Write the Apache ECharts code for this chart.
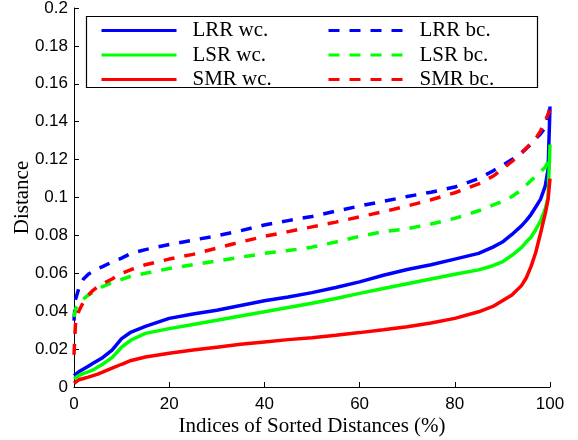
<!DOCTYPE html>
<html>
<head>
<meta charset="utf-8">
<style>
  html, body { margin: 0; padding: 0; background: #fff; }
  #chart { width: 578px; height: 440px; }
</style>
<script src="https://cdn.jsdelivr.net/npm/echarts@6/dist/echarts.min.js"></script>
</head>
<body>
<div id="chart"></div>
<script>
// x positions (% of sorted distances) shared by all curves
const xs = [0, 0.3, 1, 2, 3, 4, 5, 6, 8, 10, 12, 15, 20, 25, 30, 35, 40, 45, 50, 55,
  60, 65, 70, 75, 80, 85, 88, 90, 92, 94, 95, 96, 97, 98, 99, 99.6, 100];

const lrrWc = [0.006, 0.007, 0.008, 0.0095, 0.011, 0.0125, 0.014, 0.0155, 0.0195, 0.0255, 0.029, 0.032,
  0.0362, 0.0385, 0.0405, 0.043, 0.0455, 0.0475, 0.0498, 0.0525, 0.0555, 0.059, 0.062, 0.0645, 0.0675,
  0.0705, 0.0738, 0.0765, 0.0805, 0.085, 0.0878, 0.091, 0.095, 0.099, 0.106, 0.115, 0.148];
const lsrWc = [0.0045, 0.005, 0.006, 0.0072, 0.008, 0.009, 0.0105, 0.012, 0.0155, 0.021, 0.0248, 0.0283,
  0.0308, 0.033, 0.0352, 0.0375, 0.0397, 0.042, 0.0442, 0.0467, 0.0494, 0.052, 0.0545, 0.057, 0.0595,
  0.0618, 0.064, 0.066, 0.0695, 0.0735, 0.0765, 0.079, 0.083, 0.0875, 0.094, 0.1, 0.128];
const smrWc = [0.002, 0.003, 0.0038, 0.0045, 0.0052, 0.006, 0.0068, 0.0078, 0.0099, 0.012, 0.014, 0.0158,
  0.0178, 0.0195, 0.021, 0.0225, 0.0238, 0.025, 0.026, 0.0273, 0.0287, 0.0302, 0.0318, 0.0338, 0.0362,
  0.0397, 0.0425, 0.0455, 0.0485, 0.0535, 0.0575, 0.0635, 0.071, 0.081, 0.0915, 0.099, 0.11];
const lrrBc = [0.035, 0.046, 0.052, 0.057, 0.0595, 0.061, 0.0625, 0.0635, 0.066, 0.068, 0.0705, 0.0725,
  0.0752, 0.0775, 0.0798, 0.0825, 0.0855, 0.0878, 0.09, 0.0928, 0.0955, 0.098, 0.1005, 0.1028, 0.1055,
  0.11, 0.114, 0.117, 0.12, 0.1235, 0.1258, 0.1282, 0.131, 0.1335, 0.137, 0.143, 0.148];
const lsrBc = [0.037, 0.041, 0.0445, 0.0465, 0.0485, 0.05, 0.0515, 0.053, 0.055, 0.0568, 0.0585, 0.06,
  0.0625, 0.0645, 0.0665, 0.0685, 0.0705, 0.072, 0.0738, 0.0765, 0.0795, 0.082, 0.0835, 0.086, 0.089,
  0.093, 0.096, 0.098, 0.1005, 0.104, 0.1065, 0.109, 0.111, 0.1135, 0.116, 0.119, 0.121];
const smrBc = [0.017, 0.033, 0.04, 0.045, 0.0485, 0.051, 0.053, 0.0545, 0.057, 0.06, 0.062, 0.0645,
  0.0675, 0.07, 0.0733, 0.0765, 0.0795, 0.082, 0.0845, 0.087, 0.0898, 0.0925, 0.0955, 0.0988, 0.1025,
  0.1072, 0.1112, 0.115, 0.119, 0.1235, 0.126, 0.1285, 0.131, 0.135, 0.1405, 0.144, 0.146];

const xTicks = [0, 20, 40, 60, 80, 100];

const BLUE = '#0000ff', GREEN = '#00ff00', RED = '#ff0000';
const DASH = [11, 10];
const LW = 3.5;
const serif = '"Liberation Serif", "Times New Roman", serif';
const sans = '"Liberation Sans", Arial, sans-serif';

function mkSeries(name, ys, color, dashed) {
  return {
    name,
    type: 'line',
    data: xs.map((x, i) => [x, ys[i]]),
    symbol: 'none',
    showSymbol: false,
    z: 3,
    lineStyle: { color, width: LW, type: dashed ? DASH : 'solid' },
    itemStyle: { color },
    emphasis: { disabled: true },
  };
}

const legendText = {
  fontFamily: serif,
  fontSize: 21,
  color: '#000',
  lineHeight: 21,
  padding: [0, 0, 0, 11],
};

function mkLegend(names, left) {
  return {
    data: names,
    orient: 'vertical', left, top: 20, padding: 0,
    itemWidth: 75, itemHeight: 14, itemGap: 3.5,
    itemStyle: { opacity: 0 },
    lineStyle: { width: 3 },
    textStyle: legendText, selectedMode: false, z: 4,
  };
}

const chart = echarts.init(document.getElementById('chart'), null, { renderer: 'canvas' });
chart.setOption({
  animation: false,
  backgroundColor: '#fff',
  grid: { left: 74, right: 28, top: 8, bottom: 53, containLabel: false, outerBoundsMode: 'none' },
  graphic: [{
    type: 'rect',
    z: 1,
    shape: { x: 86.5, y: 16.5, width: 451, height: 71 },
    style: { fill: '#fff', stroke: '#000', lineWidth: 1.2 },
  }],
  legend: [
    mkLegend(['LRR wc.', 'LSR wc.', 'SMR wc.'], 100),
    mkLegend(['LRR bc.', 'LSR bc.', 'SMR bc.'], 327),
  ],
  xAxis: {
    type: 'value',
    min: 0, max: 100, interval: 20,
    name: 'Indices of Sorted Distances (%)',
    nameLocation: 'middle',
    nameGap: 29,
    nameMoveOverlap: false,
    nameTextStyle: { fontFamily: serif, fontSize: 21, color: '#000' },
    axisLine: { lineStyle: { color: '#000', width: 1 } },
    axisTick: { inside: true, length: 5, lineStyle: { color: '#000' } },
    axisLabel: {
      fontFamily: sans, fontSize: 17, color: '#000', margin: 9,
      formatter: v => (xTicks.includes(v) ? String(v) : ''),
    },
    splitLine: { show: false },
  },
  yAxis: {
    type: 'value',
    min: 0, max: 0.2, interval: 0.02,
    name: 'Distance',
    nameLocation: 'middle',
    nameGap: 41,
    nameMoveOverlap: false,
    nameTextStyle: { fontFamily: serif, fontSize: 21, color: '#000' },
    axisLine: { show: true, lineStyle: { color: '#000', width: 1 } },
    axisTick: { show: true, inside: true, length: 5, lineStyle: { color: '#000' } },
    axisLabel: {
      fontFamily: sans, fontSize: 17, color: '#000', margin: 6,
      formatter: v => String(parseFloat(v.toFixed(2))),
    },
    splitLine: { show: false },
  },
  series: [
    mkSeries('LRR wc.', lrrWc, BLUE, false),
    mkSeries('LSR wc.', lsrWc, GREEN, false),
    mkSeries('SMR wc.', smrWc, RED, false),
    mkSeries('LRR bc.', lrrBc, BLUE, true),
    mkSeries('LSR bc.', lsrBc, GREEN, true),
    mkSeries('SMR bc.', smrBc, RED, true),
  ],
});
</script>
</body>
</html>
